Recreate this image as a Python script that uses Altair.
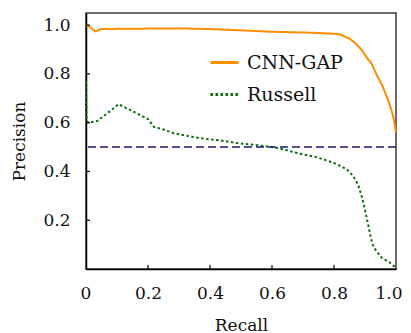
import altair as alt
import pandas as pd

# ---- data ----
cnn_recall = [0, 0.01, 0.03, 0.05, 0.1, 0.2, 0.3, 0.4, 0.5, 0.6, 0.7, 0.75, 0.8, 0.82,
              0.85, 0.87, 0.89, 0.91, 0.92, 0.94, 0.955, 0.966, 0.975, 0.982, 0.99, 0.995, 1.0]
cnn_precision = [1.0, 0.995, 0.975, 0.984, 0.985, 0.986, 0.987, 0.984, 0.979, 0.973, 0.970,
                 0.968, 0.965, 0.962, 0.945, 0.925, 0.897, 0.86, 0.845, 0.79, 0.755, 0.72,
                 0.69, 0.665, 0.63, 0.60, 0.56]

rus_recall = [0, 0.002, 0.01, 0.036, 0.068, 0.085, 0.105, 0.13, 0.143, 0.186, 0.2, 0.219,
              0.25, 0.283, 0.33, 0.37, 0.43, 0.49, 0.55, 0.6, 0.64, 0.667, 0.7, 0.74, 0.772,
              0.8, 0.826, 0.845, 0.859, 0.87, 0.88, 0.888, 0.895, 0.901, 0.907, 0.913, 0.918,
              0.925, 0.934, 0.945, 0.955, 0.967, 0.977, 0.986, 0.993, 1.0]
rus_precision = [0.77, 0.605, 0.60, 0.607, 0.638, 0.655, 0.676, 0.66, 0.652, 0.624, 0.615,
                 0.583, 0.572, 0.557, 0.545, 0.536, 0.528, 0.516, 0.508, 0.50, 0.49, 0.48,
                 0.47, 0.46, 0.447, 0.435, 0.419, 0.405, 0.385, 0.365, 0.337, 0.305, 0.27,
                 0.235, 0.2, 0.165, 0.132, 0.1, 0.078, 0.06, 0.045, 0.036, 0.029, 0.02, 0.012,
                 0.01]

series_names = ["CNN-GAP", "Russell"]
baseline = [0.5]
y_ticks = [0.2, 0.4, 0.6, 0.8, 1.0]
x_ticks = [0, 0.2, 0.4, 0.6, 0.8, 1.0]

df = pd.concat([
    pd.DataFrame({"recall": cnn_recall, "precision": cnn_precision, "method": series_names[0], "order": range(len(cnn_recall))}),
    pd.DataFrame({"recall": rus_recall, "precision": rus_precision, "method": series_names[1], "order": range(len(rus_recall))}),
])

FONT = "DejaVu Serif"
FS = 17
W, H = 310, 256

xscale = alt.Scale(domain=[0, 1], nice=False)
yscale = alt.Scale(domain=[0, 1.05], nice=False)

lines = alt.Chart(df).mark_line(strokeWidth=2).encode(
    x=alt.X("recall:Q", scale=xscale,
            axis=alt.Axis(title="Recall", values=x_ticks, ticks=False, tickSize=0,
                          labelExpr="datum.value == 0 ? '0' : format(datum.value, '.1f')",
                          labelFlush=True, labelFlushOffset=6,
                          labelPadding=16, titlePadding=16, grid=False)),
    y=alt.Y("precision:Q", scale=yscale,
            axis=alt.Axis(title="Precision", values=y_ticks, ticks=False, tickSize=0,
                          labelFlush=False, format=".1f", labelPadding=16, titlePadding=14,
                          grid=False)),
    color=alt.Color("method:N",
                    scale=alt.Scale(domain=series_names, range=["#ff8c00", "#0a6e0a"]),
                    legend=alt.Legend(title=None, orient="none", legendX=123, legendY=34,
                                      symbolType="stroke", symbolSize=784, symbolStrokeWidth=3,
                                      labelFont=FONT, labelFontSize=19, labelColor="#111",
                                      labelOffset=7, rowPadding=6)),
    strokeDash=alt.StrokeDash("method:N",
                              scale=alt.Scale(domain=series_names, range=[[1, 0], [2.5, 2.5]]),
                              legend=None),
    order="order:Q",
)

rule = alt.Chart(pd.DataFrame({"y": baseline})).mark_rule(
    color="#1a1a6e", strokeWidth=1.5, strokeDash=[8, 4]
).encode(y=alt.Y("y:Q", scale=yscale))

yt = alt.Chart(pd.DataFrame({"v": y_ticks})).mark_rule(color="black", strokeWidth=1.2).encode(
    y=alt.Y("v:Q", scale=yscale), x=alt.value(0), x2=alt.value(4))
xt = alt.Chart(pd.DataFrame({"v": x_ticks[1:-1]})).mark_rule(color="black", strokeWidth=1.2).encode(
    x=alt.X("v:Q", scale=xscale), y=alt.value(H), y2=alt.value(H - 4))

chart = alt.layer(lines, rule, yt, xt).properties(
    width=W, height=H,
    autosize=alt.AutoSizeParams(type="none"),
    padding={"left": 78, "top": 5, "right": 7, "bottom": 64},
).configure_view(
    stroke="#3a3a3a", strokeWidth=1.5
).configure_axis(
    domainColor="black", domainWidth=1.5,
    labelFont=FONT, labelFontSize=FS, labelColor="#111",
    titleFont=FONT, titleFontSize=FS, titleColor="#111", titleFontWeight="normal",
)

chart.save("out.html", embed_options={"renderer": "svg", "actions": False})
